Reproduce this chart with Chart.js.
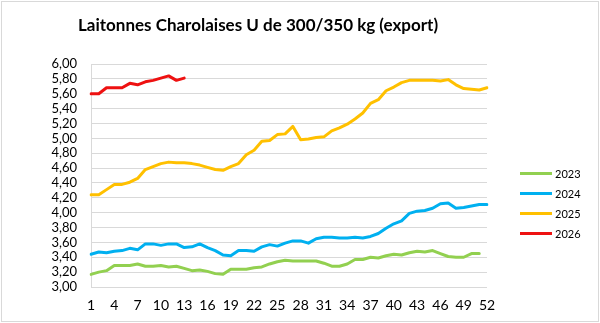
<!DOCTYPE html>
<html>
<head>
<meta charset="utf-8">
<script src="https://cdn.jsdelivr.net/npm/chart.js@4/dist/chart.umd.min.js"></script>
<style>
  body { margin: 0; background: #fff; }
  .wrap { position: relative; width: 600px; height: 323px; }
  .frame { position: absolute; left: 1px; top: 1px; width: 596px; height: 319px; border: 1px solid #d9d9d9; pointer-events: none; }
  .title { position: absolute; left: 78px; top: 14px; font-family: Lato, sans-serif; font-weight: bold; font-size: 17px; color: #000; white-space: nowrap; }
  .legend { position: absolute; left: 520px; top: 163px; font-family: Lato, sans-serif; font-size: 11px; color: #000; }
  .legend div { height: 20px; display: flex; align-items: center; }
  .legend span.sw { display: inline-block; width: 32px; height: 3px; margin-right: 3px; }
</style>
</head>
<body>
<div class="wrap">
  <canvas id="chart" width="600" height="323"></canvas>
  <div class="title">Laitonnes Charolaises U de 300/350 kg (export)</div>
  <div class="legend" id="legend"></div>
  <div class="frame"></div>
</div>
<script>
// weeks 1..52
const weeks = Array.from({ length: 52 }, (_, i) => String(i + 1));

const y2023 = [3.17, 3.20, 3.22, 3.29, 3.29, 3.29, 3.31, 3.28, 3.28, 3.29,
               3.27, 3.28, 3.25, 3.22, 3.23, 3.21, 3.18, 3.17, 3.24, 3.24,
               3.24, 3.26, 3.27, 3.31, 3.34, 3.36, 3.35, 3.35, 3.35, 3.35,
               3.32, 3.28, 3.28, 3.31, 3.37, 3.37, 3.40, 3.39, 3.42, 3.44,
               3.43, 3.46, 3.48, 3.47, 3.49, 3.45, 3.41, 3.40, 3.40, 3.45,
               3.45, null];
const y2024 = [3.44, 3.47, 3.46, 3.48, 3.49, 3.52, 3.50, 3.58, 3.58, 3.56,
               3.58, 3.58, 3.53, 3.54, 3.58, 3.53, 3.49, 3.43, 3.42, 3.49,
               3.49, 3.48, 3.54, 3.57, 3.55, 3.59, 3.62, 3.62, 3.59, 3.65,
               3.67, 3.67, 3.66, 3.66, 3.67, 3.66, 3.68, 3.72, 3.79, 3.85,
               3.89, 3.99, 4.02, 4.03, 4.06, 4.12, 4.13, 4.06, 4.07, 4.09,
               4.11, 4.11];
const y2025 = [4.24, 4.24, 4.31, 4.38, 4.38, 4.41, 4.46, 4.58, 4.62, 4.66,
               4.68, 4.67, 4.67, 4.66, 4.64, 4.61, 4.58, 4.57, 4.62, 4.66,
               4.78, 4.84, 4.96, 4.97, 5.05, 5.06, 5.16, 4.98, 4.99, 5.01,
               5.02, 5.10, 5.14, 5.19, 5.26, 5.34, 5.47, 5.52, 5.64, 5.69,
               5.75, 5.78, 5.78, 5.78, 5.78, 5.77, 5.79, 5.72, 5.67, 5.66,
               5.65, 5.68];
const y2026 = [5.60, 5.60, 5.68, 5.68, 5.68, 5.74, 5.72, 5.76, 5.78, 5.81,
               5.84, 5.78, 5.81];

const seriesNames = ['2023', '2024', '2025', '2026'];
const seriesColors = ['#92d050', '#00b0f0', '#ffc000', '#ee1111'];
const seriesData = [y2023, y2024, y2025, y2026];

const datasets = seriesNames.map((name, i) => ({
    label: name,
    data: seriesData[i],
    borderColor: seriesColors[i],
    backgroundColor: seriesColors[i],
    borderWidth: 3,
    pointRadius: 0,
    tension: 0,
    borderCapStyle: 'round',
    borderJoinStyle: 'round',
    spanGaps: false
}));

// legend as plain html
const legend = document.getElementById('legend');
seriesNames.forEach((name, i) => {
    const row = document.createElement('div');
    row.innerHTML = `<span class="sw" style="background:${seriesColors[i]}"></span>${name}`;
    legend.appendChild(row);
});

new Chart(document.getElementById('chart'), {
    type: 'line',
    data: { labels: weeks, datasets: datasets },
    options: {
        responsive: false,
        animation: false,
        layout: { padding: { left: 0, right: 113, top: 64, bottom: 0 } },
        plugins: {
            legend: { display: false },
            tooltip: { enabled: false }
        },
        scales: {
            x: {
                offset: false,
                grid: { display: false, drawTicks: false },
                border: { display: false },
                ticks: {
                    autoSkip: false,
                    maxRotation: 0,
                    padding: 10,
                    color: '#000',
                    font: { family: 'Lato', size: 14 },
                    callback: function (value, index) {
                        return index % 3 === 0 ? this.getLabelForValue(value) : '';
                    }
                },
                afterFit: (scale) => { scale.height = 36; }
            },
            y: {
                min: 3,
                max: 6,
                grid: { color: '#d9d9d9', lineWidth: 1, drawTicks: false },
                border: { display: true, color: '#d9d9d9' },
                ticks: {
                    stepSize: 0.2,
                    autoSkip: false,
                    padding: 14,
                    color: '#000',
                    font: { family: 'Lato', size: 13 },
                    callback: (v) => v.toFixed(2).replace('.', ',')
                },
                afterFit: (scale) => { scale.width = 91; }
            }
        }
    }
});
</script>
</body>
</html>
